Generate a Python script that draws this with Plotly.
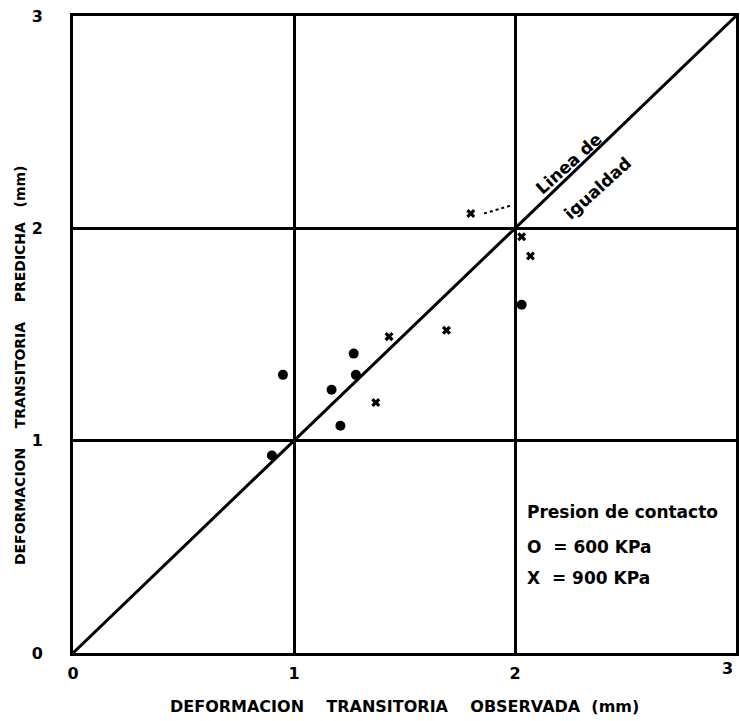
import plotly.graph_objects as go

# Data
obs_600 = [0.90, 0.95, 1.17, 1.21, 1.27, 1.28, 2.03]
pred_600 = [0.93, 1.31, 1.24, 1.07, 1.41, 1.31, 1.64]

obs_900 = [1.37, 1.43, 1.69, 1.80, 2.03, 2.07]
pred_900 = [1.18, 1.49, 1.52, 2.07, 1.96, 1.87]

line_x = [0, 3]
line_y = [0, 3]

tick_vals = [0, 1, 2]
tick_text = ["0", "1", "2"]
y_tick_vals = [0, 1, 2, 3]
y_tick_text = ["0", "1", "2", "3"]
x_last_tick = 3

x_title = "DEFORMACION    TRANSITORIA    OBSERVADA  (mm)"
y_title = "DEFORMACION    TRANSITORIA    PREDICHA   (mm)"
line_label_1 = "Linea de"
line_label_2 = "igualdad"
legend_lines = ["Presion de contacto", "O  = 600 KPa", "X  = 900 KPa"]

FONT = "DejaVu Sans"

fig = go.Figure()
fig.add_trace(go.Scatter(x=line_x, y=line_y, mode="lines",
                         line=dict(color="black", width=3), showlegend=False))
fig.add_trace(go.Scatter(x=obs_600, y=pred_600, mode="markers",
                         marker=dict(symbol="circle", size=10, color="black"),
                         showlegend=False))
fig.add_trace(go.Scatter(x=obs_900, y=pred_900, mode="markers",
                         marker=dict(symbol="x", size=8, color="black"),
                         showlegend=False))

axis_common = dict(range=[0, 3],
                   showgrid=True, gridcolor="black", gridwidth=3,
                   showline=True, linecolor="black", linewidth=3, mirror=True,
                   zeroline=False, ticks="",
                   tickfont=dict(family=FONT, size=16, color="black", weight="bold"))

fig.update_xaxes(**axis_common, tickvals=tick_vals + [x_last_tick],
                 ticktext=tick_text + [""], ticklabelstandoff=4)
fig.update_yaxes(**axis_common, tickvals=y_tick_vals, ticktext=y_tick_text,
                 ticklabelstandoff=24)

annotations = [
    dict(text=x_title, xref="paper", yref="paper", x=0.5, y=0, yshift=-53,
         xanchor="center", yanchor="middle", showarrow=False,
         font=dict(family=FONT, size=16, color="black", weight="bold")),
    dict(text=y_title, xref="paper", yref="paper", x=0, y=0.452, xshift=-53,
         xanchor="center", yanchor="middle", textangle=-90, showarrow=False,
         font=dict(family=FONT, size=14, color="black", weight="bold")),
    dict(text=line_label_1, x=2.24, y=2.305, textangle=-42, showarrow=False,
         font=dict(family=FONT, size=17, color="black", weight="bold")),
    dict(text=line_label_2, x=2.375, y=2.19, textangle=-42, showarrow=False,
         font=dict(family=FONT, size=17, color="black", weight="bold")),
    dict(text=str(x_last_tick), x=x_last_tick, y=0, yshift=-15, xshift=-1,
         xanchor="right", yanchor="middle", showarrow=False,
         font=dict(family=FONT, size=16, color="black", weight="bold")),
]
legend_y = [0.664, 0.499, 0.353]
for txt, yy in zip(legend_lines, legend_y):
    annotations.append(dict(text=txt, x=2.045, y=yy, xanchor="left", yanchor="middle",
                            showarrow=False,
                            font=dict(family=FONT, size=17, color="black", weight="bold")))

fig.update_layout(
    width=740, height=721,
    margin=dict(l=73, r=1, t=16, b=68),
    paper_bgcolor="white", plot_bgcolor="white",
    annotations=annotations,
    shapes=[dict(type="line", x0=1.86, y0=2.07, x1=1.99, y1=2.11,
                 line=dict(color="black", width=2, dash="dot"))],
)

fig.write_html("out.html")
